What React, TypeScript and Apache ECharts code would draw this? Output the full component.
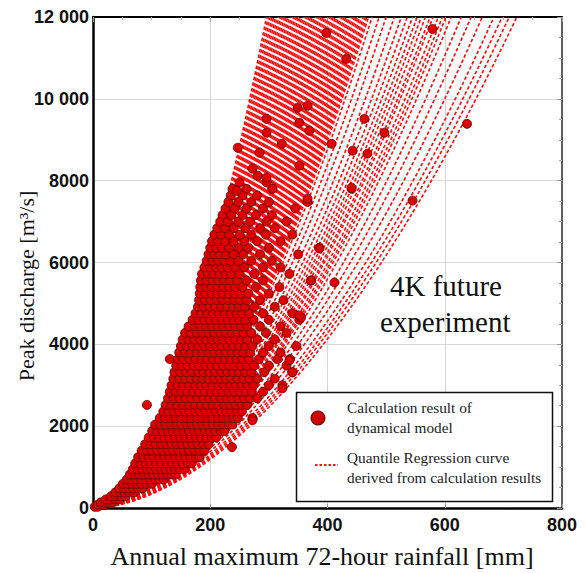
import React, { useEffect, useRef } from 'react';
import * as echarts from 'echarts';

// ---- Axis ticks ----
const xTicks = [0, 200, 400, 600, 800];
const yTickLabels = ['0', '2000', '4000', '6000', '8000', '10 000', '12 000'];
const xAxisTitle = 'Annual maximum 72-hour rainfall [mm]';
const yAxisTitle = 'Peak discharge [m³/s]';

// ---- Scatter: calculation results of the dynamical model (rows of y with x values) ----
const cloudRows: [number, number[]][] = [
  [30, [3, 8]],
  [80, [8, 14, 20]],
  [140, [14, 21, 28, 34]],
  [210, [22, 30, 38, 45]],
  [290, [31, 39, 47, 55]],
  [380, [38, 46, 54, 62, 70]],
  [480, [45, 53, 61, 69, 77, 85]],
  [590, [51, 59, 67, 75, 83, 91, 100]],
  [700, [58, 66, 74, 82, 90, 98, 106, 114, 121]],
  [820, [63, 71, 79, 87, 95, 103, 111, 119, 127, 134, 141]],
  [950, [68, 76, 84, 92, 100, 108, 116, 124, 132, 140, 148, 156]],
  [1090, [72, 81, 90, 99, 108, 117, 126, 135, 144, 153, 162, 168]],
  [1240, [77, 86, 95, 104, 113, 122, 131, 140, 149, 158, 167, 176, 182]],
  [1400, [83, 92, 101, 110, 119, 128, 137, 146, 155, 164, 173, 182, 190]],
  [1560, [89, 98, 107, 116, 125, 134, 143, 152, 161, 170, 179, 188, 197]],
  [1720, [95, 104, 113, 122, 131, 140, 149, 158, 167, 176, 185, 194, 203, 210]],
  [1880, [101, 110, 119, 128, 137, 146, 155, 164, 173, 182, 191, 200, 209, 218, 224]],
  [2040, [106, 115, 124, 133, 142, 151, 160, 169, 178, 187, 196, 205, 214, 223, 232, 238]],
  [2200, [114, 123, 132, 141, 150, 159, 168, 177, 186, 195, 204, 213, 222, 231, 240, 247, 272]],
  [2360, [120, 129, 138, 147, 156, 165, 174, 183, 192, 201, 210, 219, 228, 237, 246, 254]],
  [2520, [92, 124, 134, 144, 154, 164, 174, 184, 194, 204, 214, 224, 234, 244, 254, 263]],
  [2680, [128, 138, 148, 158, 168, 178, 188, 198, 208, 218, 228, 238, 248, 258, 268, 280]],
  [2840, [131, 141, 151, 161, 171, 181, 191, 201, 211, 221, 231, 241, 251, 261, 271, 290]],
  [3000, [134, 144, 154, 164, 174, 184, 194, 204, 214, 224, 234, 244, 254, 264, 274, 300, 323]],
  [3160, [137, 147, 157, 167, 177, 187, 197, 207, 217, 227, 237, 247, 257, 267, 280, 310]],
  [3320, [139, 149, 159, 169, 179, 189, 199, 209, 219, 229, 239, 249, 259, 270, 292, 340]],
  [3480, [142, 152, 162, 172, 182, 192, 202, 212, 222, 232, 242, 252, 262, 275, 300, 330]],
  [3640, [131, 145, 155, 165, 175, 185, 195, 205, 215, 225, 235, 245, 255, 266, 283, 315, 336]],
  [3800, [147, 157, 167, 177, 187, 197, 207, 217, 227, 237, 247, 257, 268, 290, 320]],
  [3960, [150, 160, 170, 180, 190, 200, 210, 220, 230, 240, 250, 260, 272, 300, 347]],
  [4120, [153, 163, 173, 183, 193, 203, 213, 223, 233, 243, 253, 263, 280, 310]],
  [4280, [157, 167, 177, 187, 197, 207, 217, 227, 237, 247, 257, 270, 295, 330]],
  [4440, [163, 173, 183, 193, 203, 213, 223, 233, 243, 253, 263, 285, 320]],
  [4600, [170, 180, 190, 200, 210, 220, 230, 240, 250, 260, 274, 300, 352]],
  [4760, [175, 185, 195, 205, 215, 225, 235, 245, 255, 266, 290, 340]],
  [4920, [179, 189, 199, 209, 219, 229, 239, 249, 259, 275, 310]],
  [5080, [181, 191, 201, 211, 221, 231, 241, 251, 262, 285, 325]],
  [5240, [182, 192, 202, 212, 222, 232, 242, 252, 265, 300]],
  [5400, [183, 193, 203, 213, 223, 233, 243, 255, 278, 318]],
  [5560, [184, 194, 204, 214, 224, 234, 246, 262, 290, 372]],
  [5720, [186, 196, 206, 216, 226, 236, 250, 275, 335]],
  [5880, [190, 200, 210, 220, 230, 242, 258, 290, 320]],
  [6040, [194, 204, 214, 224, 234, 248, 270, 305]],
  [6200, [197, 207, 217, 227, 240, 256, 285, 350]],
  [6360, [200, 210, 220, 232, 248, 265, 300, 386]],
  [6520, [203, 213, 225, 240, 258, 280, 320]],
  [6680, [207, 218, 232, 250, 270, 295, 340]],
  [6840, [212, 225, 240, 260, 285, 310]],
  [7000, [217, 230, 248, 268, 296, 330]],
  [7160, [221, 236, 255, 278, 305]],
  [7320, [226, 242, 262, 290, 345]],
  [7480, [231, 248, 270, 300, 366]],
  [7640, [235, 255, 280]],
  [7800, [238, 262, 306, 441]],
  [7960, [250, 296]],
];

const outliers: [number, number][] = [
  [237, 1488], [272, 2146], [323, 2927], [340, 3317], [335, 3610], [355, 4658],
  [352, 4707], [372, 5561], [412, 5512], [386, 6341], [366, 7561], [441, 7829],
  [545, 7512], [352, 8366], [407, 8902], [443, 8732], [468, 8659], [497, 9171],
  [463, 9512], [349, 9780], [366, 9829], [352, 9415], [369, 9220], [322, 8902],
  [296, 9512], [296, 9171], [284, 8683], [247, 8805], [272, 8293], [281, 8122],
  [296, 8073], [245, 7756], [306, 7805], [638, 9390], [398, 11610], [432, 10976],
  [579, 11707],
];

// ---- Quantile regression curves: rainfall (mm) at which each curve reaches the top, shared exponent ----
const curveTopX: number[] = [
  296, 299, 302, 305, 308, 311, 314, 317, 320, 323, 326, 329, 332, 335, 338, 341, 344, 347, 350, 353,
  356, 359, 362, 365, 368, 371, 374, 377, 380, 383, 386, 389, 392, 395, 398, 401, 404, 407, 410, 413,
  416, 419, 422, 425, 428, 431, 434, 437, 440, 443, 446, 449, 452, 455, 458, 461, 464, 467, 470,
  476, 488, 500, 514, 526, 536, 545, 553, 560, 567, 575, 580, 589, 596,
  602, 611, 628, 645, 664, 684, 698, 710, 723,
];
const curveExponent = 1.8;
const curveTopY = 12000;
const curveSamples = 60;

export default function App() {
  const ref = useRef<HTMLDivElement>(null);

  useEffect(() => {
    const chart = echarts.init(ref.current!, null, { renderer: 'svg' });

    const dots: [number, number][] = [];
    cloudRows.forEach(([y, xs]) => xs.forEach((x) => dots.push([x, y])));
    outliers.forEach((p) => dots.push(p));

    const curveSeries = curveTopX.map((xt) => {
      const pts: [number, number][] = [];
      for (let k = 0; k <= curveSamples; k++) {
        const t = k / curveSamples;
        pts.push([xt * t, curveTopY * Math.pow(t, curveExponent)]);
      }
      return {
        type: 'line',
        data: pts,
        showSymbol: false,
        symbol: 'none',
        silent: true,
        z: 2,
        lineStyle: { color: '#ff0a0a', width: 1.6, type: [3.5, 2.2] },
      };
    });

    const serif = '"Liberation Serif", "Times New Roman", serif';
    const sans = '"Liberation Sans", Arial, sans-serif';

    const option: any = {
      animation: false,
      backgroundColor: '#ffffff',
      grid: { left: 93, right: 23, top: 17, bottom: 65, containLabel: false, outerBoundsMode: 'none' },
      xAxis: [
        {
          type: 'value', min: xTicks[0], max: xTicks[xTicks.length - 1], interval: 200, position: 'bottom',
          axisLine: { show: true, onZero: false, lineStyle: { color: '#000', width: 2.5 } },
          axisTick: { show: true, inside: true, length: 4, lineStyle: { color: '#999' } },
          splitLine: { show: true, lineStyle: { color: '#d6d6d6', width: 1 } },
          axisLabel: { fontFamily: sans, fontWeight: 'bold', fontSize: 18, color: '#111', margin: 8 },
        },
        {
          type: 'value', min: 0, max: 800, interval: 200, position: 'top',
          axisLine: { show: true, onZero: false, lineStyle: { color: '#000', width: 2 } },
          axisTick: { show: true, inside: true, length: 5, lineStyle: { color: '#999' } },
          minorTick: { show: true, splitNumber: 4, length: 3, lineStyle: { color: '#aaa' } },
          axisLabel: { show: false }, splitLine: { show: false },
        },
      ],
      yAxis: [
        {
          type: 'value', min: 0, max: 12000, interval: 2000, position: 'left',
          axisLine: { show: true, onZero: false, lineStyle: { color: '#000', width: 2.5 } },
          axisTick: { show: false },
          splitLine: { show: true, lineStyle: { color: '#d6d6d6', width: 1 } },
          axisLabel: {
            fontFamily: sans, fontWeight: 'bold', fontSize: 18, color: '#111', margin: 4,
            formatter: (v: number) => yTickLabels[Math.round(v / 2000)],
          },
        },
        {
          type: 'value', min: 0, max: 12000, interval: 2000, position: 'right',
          axisLine: { show: true, onZero: false, lineStyle: { color: '#333', width: 1.5 } },
          axisTick: { show: true, inside: true, length: 5, lineStyle: { color: '#999' } },
          minorTick: { show: true, splitNumber: 4, length: 3, lineStyle: { color: '#aaa' } },
          axisLabel: { show: false }, splitLine: { show: false },
        },
      ],
      series: [
        ...curveSeries,
        {
          type: 'scatter', data: dots, symbol: 'circle', symbolSize: 9, z: 3, silent: true,
          itemStyle: { color: '#dd0000', borderColor: '#5a0000', borderWidth: 0.8, opacity: 1 },
        },
      ],
      graphic: [
        {
          type: 'text', x: 322, y: 556, z: 50, silent: true,
          style: { text: xAxisTitle, font: `26px ${serif}`, fill: '#111', align: 'center', verticalAlign: 'middle' },
        },
        {
          type: 'text', x: 26, y: 286, rotation: Math.PI / 2, z: 50, silent: true,
          style: { text: yAxisTitle, font: `22px ${serif}`, fill: '#111', align: 'center', verticalAlign: 'middle' },
        },
        {
          type: 'text', left: 390, top: 271, z: 50, silent: true,
          style: { text: '4K future', font: `29px ${serif}`, fill: '#111' },
        },
        {
          type: 'text', left: 380, top: 307, z: 50, silent: true,
          style: { text: 'experiment', font: `29px ${serif}`, fill: '#111' },
        },
        {
          type: 'rect', z: 100, silent: true,
          shape: { x: 296.5, y: 392.5, width: 256, height: 109 },
          style: { fill: '#fff', stroke: '#111', lineWidth: 1.5 },
        },
        {
          type: 'circle', z: 101, silent: true,
          shape: { cx: 318, cy: 418, r: 7 },
          style: { fill: '#d00000', stroke: '#4a0000', lineWidth: 1 },
        },
        {
          type: 'line', z: 101, silent: true,
          shape: { x1: 315, y1: 465, x2: 338, y2: 465 },
          style: { stroke: '#ff1010', lineWidth: 2, lineDash: [2.5, 2] },
        },
        {
          type: 'text', x: 347, y: 407, z: 101, silent: true,
          style: { text: 'Calculation result of', font: `15.3px ${serif}`, fill: '#222', verticalAlign: 'middle' },
        },
        {
          type: 'text', x: 347, y: 427, z: 101, silent: true,
          style: { text: 'dynamical model', font: `15.3px ${serif}`, fill: '#222', verticalAlign: 'middle' },
        },
        {
          type: 'text', x: 347, y: 457, z: 101, silent: true,
          style: { text: 'Quantile Regression curve', font: `15.3px ${serif}`, fill: '#222', verticalAlign: 'middle' },
        },
        {
          type: 'text', x: 347, y: 477, z: 101, silent: true,
          style: { text: 'derived from calculation results', font: `15.3px ${serif}`, fill: '#222', verticalAlign: 'middle' },
        },
      ],
    };

    chart.setOption(option);
    return () => chart.dispose();
  }, []);

  return (
    <div
      ref={ref}
      style={{ position: 'absolute', left: 0, top: 0, width: 585, height: 573, background: '#fff' }}
    />
  );
}
